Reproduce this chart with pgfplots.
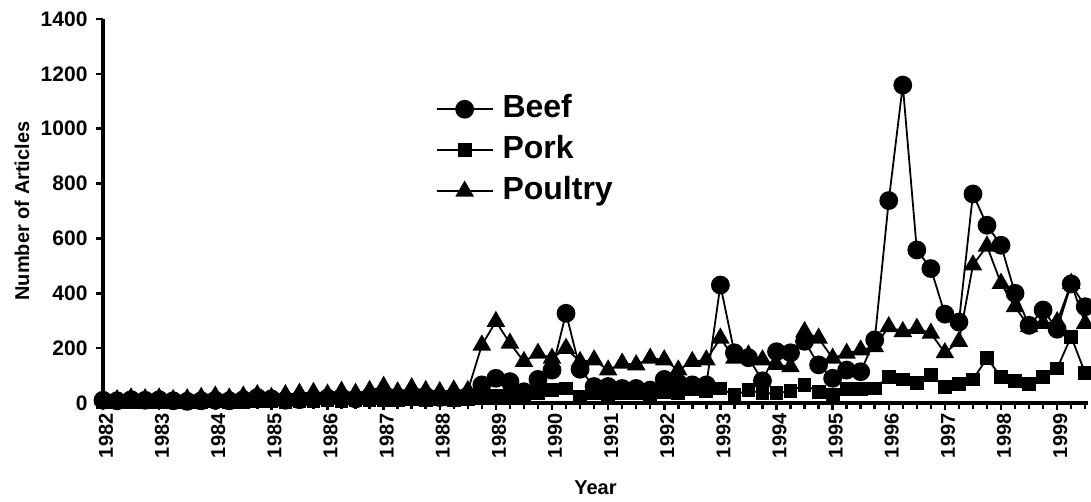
\documentclass[border=0pt]{standalone}
\usepackage{pgfplots}
\pgfplotsset{compat=1.18}
\usetikzlibrary{calc}
\usepackage{fontspec}
\setmainfont{Liberation Sans}

\pgfplotstableread{
i beef pork poultry
0 10 5 15
1 8 3 12
2 12 5 18
3 10 4 15
4 12 5 18
5 8 3 12
6 6 4 15
7 8 5 20
8 10 6 25
9 8 4 18
10 12 5 25
11 20 8 30
12 15 6 20
13 10 5 30
14 12 7 35
15 15 8 38
16 18 10 32
17 20 8 42
18 15 12 35
19 22 10 45
20 25 12 60
21 20 10 40
22 22 15 55
23 25 12 45
24 20 15 41
25 18 12 47
26 25 15 45
27 66 18 211
28 90 25 297
29 78 30 218
30 41 20 151
31 86 35 181
32 120 47 163
33 327 53 199
34 123 23 151
35 60 35 157
36 60 30 120
37 53 35 145
38 53 35 139
39 47 30 163
40 86 40 157
41 72 35 120
42 66 50 151
43 66 45 157
44 430 53 236
45 183 29 163
46 165 47 175
47 81 35 157
48 187 35 140
49 183 44 132
50 225 66 260
51 139 41 236
52 90 29 163
53 120 50 181
54 114 50 193
55 230 53 205
56 738 96 278
57 1159 86 260
58 558 72 272
59 490 102 254
60 324 57 183
61 295 69 224
62 762 86 503
63 648 163 572
64 575 96 436
65 400 81 351
66 283 69 278
67 339 96 290
68 269 126 296
69 434 242 436
70 351 108 290
}\datatable

\begin{document}
\begin{tikzpicture}
\begin{axis}[
  scale only axis,
  width=985pt, height=384pt,
  xmin=0, xmax=70.2, ymin=0, ymax=1400,
  axis lines*=left,
  x axis line style={line width=3.5pt},
  y axis line style={line width=3.5pt},
  tick style={line width=2.5pt, black},
  tick align=outside,
  major tick length=7pt,
  minor tick length=6pt,
  ytick={0,200,...,1400},
  xtick={0,4,...,68},
  xticklabels={1982,1983,1984,1985,1986,1987,1988,1989,1990,1991,1992,1993,1994,1995,1996,1997,1998,1999},
  minor xtick={0,1,...,70},
  xticklabel style={rotate=90, anchor=east, yshift=-3pt, font=\bfseries\fontsize{20}{22}\selectfont},
  yticklabel style={xshift=-5pt, font=\bfseries\fontsize{21}{23}\selectfont},
  /pgf/number format/assume math mode=true,
  /pgf/number format/1000 sep={},
  xlabel={Year},
  ylabel={Number of Articles},
  xlabel style={at={(axis description cs:0.5,-0.221)}, anchor=center, font=\bfseries\fontsize{20}{22}\selectfont},
  ylabel style={at={(axis description cs:-0.0822,0.5)}, anchor=center, font=\bfseries\fontsize{20}{22}\selectfont},
  every axis plot/.append style={black, line width=1.8pt, mark options={solid, fill=black}},
  legend image code/.code={\draw[mark repeat=2, mark phase=2, #1] plot coordinates {(0pt,0pt) (28pt,0pt) (56pt,0pt)};},
  legend style={at={(axis cs:23.7,1130)}, anchor=north west, draw=none, fill=none,
    font=\bfseries\fontsize{32}{38}\selectfont, row sep=9pt, column sep=8pt, inner sep=0pt,
    nodes={inner sep=1pt, text height=23pt, text depth=7pt}},
  legend cell align=left,
]
\addplot[mark=*, mark size=8.5pt] table[x=i, y=beef] {\datatable};
\addlegendentry{Beef}
\addplot[mark=square*, mark size=6pt] table[x=i, y=pork] {\datatable};
\addlegendentry{Pork}
\addplot[mark=triangle*, mark size=9pt] table[x=i, y=poultry] {\datatable};
\addlegendentry{Poultry}
\end{axis}
\pgfresetboundingbox
\path[use as bounding box] ($(current axis.south west)+(-103pt,-99pt)$) rectangle ($(current axis.north east)+(3pt,19pt)$);
\end{tikzpicture}
\end{document}
